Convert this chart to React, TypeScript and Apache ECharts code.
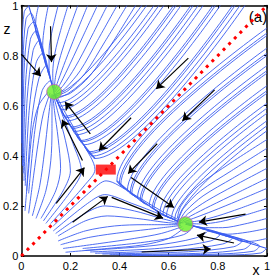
import React, { useEffect, useRef } from "react";
import * as echarts from "echarts";

type Pt = [number, number];

// axis ticks (x and z share the same ticks)
const xTicks = [0, 0.2, 0.4, 0.6, 0.8, 1];
const zTicks = [0, 0.2, 0.4, 0.6, 0.8, 1];

// streamlines, [x, z] points
const outerUpper: Pt[][] = [
  [[0.91, 1], [0.299, 0.389], [0.276, 0.416]],
  [[0.89, 1], [0.289, 0.399], [0.267, 0.427]],
  [[0.87, 1], [0.28, 0.41], [0.258, 0.438]],
  [[0.86, 1], [0.276, 0.416], [0.254, 0.444]],
  [[0.81, 1], [0.254, 0.444], [0.233, 0.472]],
  [[0.79, 1], [0.246, 0.456], [0.224, 0.484]],
  [[0.78, 1], [0.241, 0.461], [0.22, 0.49]],
  [[0.74, 1], [0.224, 0.484], [0.205, 0.515]],
  [[0.72, 1], [0.217, 0.497], [0.197, 0.527]],
  [[0.7, 1], [0.209, 0.509], [0.19, 0.54]],
  [[0.69, 1], [0.205, 0.515], [0.186, 0.546]],
  [[0.65, 1], [0.19, 0.54], [0.17, 0.57]],
  [[0.63, 1], [0.182, 0.552], [0.164, 0.584]],
  [[0.62, 1], [0.178, 0.558], [0.161, 0.591]],
  [[0.58, 1], [0.164, 0.584], [0.149, 0.618]],
  [[0.56, 1], [0.158, 0.598], [0.141, 0.631]],
  [[0.54, 1], [0.152, 0.612], [0.138, 0.645]],
  [[0.51, 1], [0.141, 0.631], [0.134, 0.655]],
  [[0.49, 1], [0.135, 0.645], [0.132, 0.66]],
];

const outerLower: Pt[][] = [
  [[1, 0.91], [0.389, 0.299], [0.416, 0.276]],
  [[1, 0.89], [0.399, 0.289], [0.427, 0.267]],
  [[1, 0.88], [0.405, 0.285], [0.432, 0.262]],
  [[1, 0.83], [0.432, 0.262], [0.46, 0.24]],
  [[1, 0.81], [0.444, 0.254], [0.472, 0.233]],
  [[1, 0.8], [0.45, 0.25], [0.478, 0.228]],
  [[1, 0.76], [0.473, 0.232], [0.503, 0.211]],
  [[1, 0.74], [0.484, 0.224], [0.515, 0.205]],
  [[1, 0.73], [0.49, 0.22], [0.52, 0.2]],
  [[1, 0.68], [0.521, 0.201], [0.552, 0.182]],
  [[1, 0.66], [0.534, 0.194], [0.564, 0.174]],
  [[1, 0.65], [0.54, 0.19], [0.57, 0.17]],
  [[1, 0.61], [0.565, 0.175], [0.598, 0.158]],
  [[1, 0.59], [0.577, 0.167], [0.612, 0.152]],
  [[1, 0.57], [0.591, 0.161], [0.625, 0.146]],
  [[1, 0.54], [0.612, 0.152], [0.645, 0.138]],
  [[1, 0.52], [0.624, 0.145], [0.655, 0.134]],
  [[1, 0.5], [0.638, 0.138], [0.66, 0.132]],
];

const topCurves: Pt[][] = [
  [[0.07, 1], [0.06, 0.95], [0.058, 0.9], [0.072, 0.86], [0.1, 0.76]],
  [[0.11, 1], [0.095, 0.92], [0.087, 0.84], [0.1, 0.77], [0.12, 0.7]],
  [[0.15, 1], [0.128, 0.91], [0.113, 0.82], [0.113, 0.75], [0.125, 0.68]],
  [[0.19, 1], [0.16, 0.9], [0.137, 0.81], [0.128, 0.73], [0.13, 0.67]],
  [[0.23, 1], [0.19, 0.89], [0.16, 0.8], [0.14, 0.72], [0.134, 0.665]],
  [[0.27, 1], [0.22, 0.88], [0.18, 0.78], [0.15, 0.7], [0.136, 0.66]],
  [[0.31, 1], [0.25, 0.875], [0.2, 0.77], [0.16, 0.69], [0.138, 0.655]],
  [[0.35, 1], [0.28, 0.865], [0.22, 0.755], [0.17, 0.68], [0.14, 0.65]],
  [[0.39, 1], [0.31, 0.86], [0.24, 0.74], [0.18, 0.67], [0.142, 0.645]],
  [[0.43, 1], [0.34, 0.855], [0.26, 0.73], [0.19, 0.66], [0.145, 0.64]],
  [[0.465, 1], [0.37, 0.85], [0.28, 0.72], [0.2, 0.65], [0.15, 0.635]],
];

const rightCurves: Pt[][] = [
  [[1, 0.07], [0.95, 0.06], [0.9, 0.058], [0.86, 0.072], [0.76, 0.1]],
  [[1, 0.11], [0.92, 0.095], [0.84, 0.087], [0.77, 0.1], [0.7, 0.12]],
  [[1, 0.15], [0.91, 0.128], [0.82, 0.113], [0.75, 0.113], [0.68, 0.125]],
  [[1, 0.19], [0.9, 0.16], [0.81, 0.137], [0.73, 0.128], [0.67, 0.13]],
  [[1, 0.23], [0.89, 0.19], [0.8, 0.16], [0.72, 0.14], [0.665, 0.134]],
  [[1, 0.27], [0.88, 0.22], [0.78, 0.18], [0.7, 0.15], [0.66, 0.136]],
  [[1, 0.31], [0.875, 0.25], [0.77, 0.2], [0.69, 0.16], [0.655, 0.138]],
  [[1, 0.35], [0.865, 0.28], [0.755, 0.22], [0.68, 0.17], [0.65, 0.14]],
  [[1, 0.39], [0.86, 0.31], [0.74, 0.24], [0.67, 0.18], [0.645, 0.142]],
  [[1, 0.43], [0.855, 0.34], [0.73, 0.26], [0.66, 0.19], [0.64, 0.145]],
  [[1, 0.465], [0.85, 0.37], [0.72, 0.28], [0.65, 0.2], [0.635, 0.15]],
];

const leftArcs: Pt[][] = [
  [[0.03, 0.25], [0.055, 0.5], [0.085, 0.66], [0.12, 0.7], [0.13, 0.67]],
  [[0.022, 0.26], [0.042, 0.54], [0.072, 0.71], [0.102, 0.76], [0.12, 0.7]],
  [[0.016, 0.28], [0.032, 0.58], [0.06, 0.77], [0.087, 0.81], [0.115, 0.72]],
  [[0.011, 0.3], [0.024, 0.63], [0.048, 0.82], [0.072, 0.86], [0.11, 0.73]],
  [[0.008, 0.33], [0.017, 0.68], [0.037, 0.865], [0.06, 0.9], [0.1, 0.76]],
  [[0.005, 0.36], [0.011, 0.73], [0.027, 0.905], [0.05, 0.935], [0.09, 0.8]],
  [[0.003, 0.4], [0.007, 0.78], [0.019, 0.945], [0.039, 0.97], [0.08, 0.83]],
  [[0.002, 0.45], [0.004, 0.84], [0.012, 0.975], [0.03, 0.998]],
];

const bottomArcs: Pt[][] = [
  [[0.25, 0.03], [0.5, 0.055], [0.66, 0.085], [0.7, 0.12], [0.67, 0.13]],
  [[0.26, 0.022], [0.54, 0.042], [0.71, 0.072], [0.76, 0.102], [0.7, 0.12]],
  [[0.28, 0.016], [0.58, 0.032], [0.77, 0.06], [0.81, 0.087], [0.72, 0.115]],
  [[0.3, 0.011], [0.63, 0.024], [0.82, 0.048], [0.86, 0.072], [0.73, 0.11]],
  [[0.33, 0.008], [0.68, 0.017], [0.865, 0.037], [0.9, 0.06], [0.76, 0.1]],
  [[0.36, 0.005], [0.73, 0.011], [0.905, 0.027], [0.935, 0.05], [0.8, 0.09]],
  [[0.4, 0.003], [0.78, 0.007], [0.945, 0.019], [0.97, 0.039], [0.83, 0.08]],
  [[0.45, 0.002], [0.84, 0.004], [0.975, 0.012], [0.998, 0.03]],
];

const innerUpper: Pt[][] = [
  [[0.12, 0.13], [0.26, 0.285], [0.3, 0.345], [0.25, 0.45], [0.18, 0.57], [0.14, 0.645]],
  [[0.1, 0.13], [0.21, 0.27], [0.245, 0.34], [0.21, 0.45], [0.165, 0.57], [0.135, 0.645]],
  [[0.09, 0.14], [0.17, 0.26], [0.2, 0.34], [0.18, 0.46], [0.15, 0.57], [0.13, 0.645]],
  [[0.08, 0.15], [0.14, 0.26], [0.16, 0.35], [0.15, 0.47], [0.135, 0.58], [0.128, 0.645]],
  [[0.06, 0.15], [0.1, 0.26], [0.12, 0.38], [0.125, 0.5], [0.125, 0.64]],
  [[0.045, 0.16], [0.075, 0.28], [0.095, 0.42], [0.11, 0.55], [0.122, 0.645]],
  [[0.03, 0.17], [0.05, 0.32], [0.07, 0.46], [0.09, 0.57], [0.117, 0.65]],
  [[0.015, 0.18], [0.03, 0.35], [0.045, 0.5], [0.07, 0.6], [0.11, 0.655]],
];

const innerLower: Pt[][] = [
  [[0.13, 0.12], [0.285, 0.26], [0.345, 0.3], [0.45, 0.25], [0.57, 0.18], [0.65, 0.14]],
  [[0.13, 0.1], [0.27, 0.21], [0.34, 0.245], [0.45, 0.21], [0.57, 0.165], [0.65, 0.135]],
  [[0.14, 0.09], [0.26, 0.17], [0.34, 0.2], [0.46, 0.18], [0.57, 0.15], [0.65, 0.13]],
  [[0.15, 0.08], [0.26, 0.14], [0.35, 0.16], [0.47, 0.15], [0.58, 0.135], [0.65, 0.128]],
  [[0.15, 0.06], [0.26, 0.1], [0.38, 0.12], [0.5, 0.125], [0.645, 0.125]],
  [[0.16, 0.045], [0.28, 0.075], [0.42, 0.095], [0.55, 0.11], [0.65, 0.122]],
  [[0.17, 0.03], [0.32, 0.05], [0.46, 0.07], [0.57, 0.09], [0.655, 0.117]],
  [[0.18, 0.015], [0.35, 0.03], [0.5, 0.045], [0.6, 0.07], [0.66, 0.11]],
];

const manifold: Pt[][] = [
  [[0.03, 1], [0.06, 0.9], [0.087, 0.81], [0.12, 0.7], [0.134, 0.655]],
  [[0.3, 0.39], [0.25, 0.45], [0.209, 0.509], [0.17, 0.57], [0.138, 0.638]],
  [[1, 0.03], [0.9, 0.06], [0.81, 0.087], [0.7, 0.12], [0.668, 0.127]],
  [[0.39, 0.3], [0.45, 0.25], [0.509, 0.209], [0.57, 0.17], [0.64, 0.138]],
];

const diagonal: Pt[] = [[0, 0], [1, 1]];
const stablePoints: Pt[] = [[0.134, 0.655], [0.668, 0.127]];
const saddlePoint: Pt[] = [[0.344, 0.345]];

// black arrows: [tail, head]
const arrows: Pt[][] = [
  [[0.0, 0.806], [0.079, 0.718]],
  [[0.119, 0.917], [0.123, 0.774]],
  [[0.281, 0.488], [0.178, 0.615]],
  [[0.249, 0.381], [0.166, 0.544]],
  [[0.142, 0.21], [0.257, 0.353]],
  [[0.209, 0.135], [0.352, 0.238]],
  [[0.68, 0.79], [0.549, 0.667]],
  [[0.787, 0.663], [0.656, 0.54]],
  [[0.447, 0.552], [0.316, 0.421]],
  [[0.553, 0.448], [0.435, 0.329]],
  [[0.447, 0.313], [0.621, 0.194]],
  [[0.368, 0.234], [0.577, 0.151]],
  [[0.913, 0.167], [0.723, 0.135]],
  [[0.866, 0.052], [0.715, 0.083]],
  [[0.49, 0.016], [0.771, 0.028]],
];

const FONT = "'Liberation Sans', Arial, Helvetica, sans-serif";
const BLUE = "#3a5cf0";

export default function App() {
  const ref = useRef<HTMLDivElement>(null);
  useEffect(() => {
    if (!ref.current) return;
    const chart = echarts.init(ref.current, undefined, { renderer: "svg" });

    const streamGroups = [
      outerUpper, outerLower, topCurves, rightCurves,
      leftArcs, bottomArcs, innerUpper, innerLower,
    ];
    const streamSeries: any[] = [];
    streamGroups.forEach((g) =>
      g.forEach((pts) =>
        streamSeries.push({
          type: "line",
          data: pts,
          smooth: 0.3,
          showSymbol: false,
          silent: true,
          z: 1,
          lineStyle: { color: BLUE, width: 0.9 },
        })
      )
    );
    manifold.forEach((pts) =>
      streamSeries.push({
        type: "line",
        data: pts,
        smooth: 0.3,
        showSymbol: false,
        silent: true,
        z: 1,
        lineStyle: { color: BLUE, width: 1.1 },
      })
    );

    const axisCommon = {
      type: "value" as const,
      min: 0,
      max: 1,
      interval: 0.2,
      splitLine: { show: false },
      axisLine: { show: true, onZero: false, lineStyle: { color: "#000", width: 1.5 } },
      axisTick: { show: true, inside: true, length: 3, lineStyle: { color: "#000", width: 1 } },
    };

    chart.setOption({
      animation: false,
      grid: { left: 17, top: 4, right: 3, bottom: 21, containLabel: false },
      xAxis: [
        {
          ...axisCommon,
          position: "bottom",
          axisLabel: {
            color: "#000", fontSize: 11, fontFamily: FONT, margin: 4,
            formatter: (v: number) => String(xTicks.find((t) => Math.abs(t - v) < 1e-6) ?? v),
          },
        },
        { ...axisCommon, position: "top", axisLabel: { show: false } },
      ],
      yAxis: [
        {
          ...axisCommon,
          position: "left",
          axisLabel: {
            color: "#000", fontSize: 11, fontFamily: FONT, margin: 3,
            formatter: (v: number) => String(zTicks.find((t) => Math.abs(t - v) < 1e-6) ?? v),
          },
        },
        { ...axisCommon, position: "right", axisLabel: { show: false } },
      ],
      graphic: [
        { type: "text", x: 7, y: 29, style: { text: "z", fontSize: 14, fontFamily: FONT, fill: "#000", align: "center", verticalAlign: "middle" } },
        { type: "text", x: 256, y: 270, style: { text: "x", fontSize: 14, fontFamily: FONT, fill: "#000", align: "center", verticalAlign: "middle" } },
        { type: "text", x: 258, y: 16, style: { text: "(a)", fontSize: 15, fontFamily: FONT, fill: "#000", align: "center", verticalAlign: "middle" } },
      ],
      series: [
        ...streamSeries,
        {
          type: "line",
          data: diagonal,
          showSymbol: false,
          silent: true,
          z: 3,
          lineStyle: { color: "#ff0000", width: 3, type: [3, 5] },
        },
        {
          type: "lines",
          coordinateSystem: "cartesian2d",
          silent: true,
          z: 4,
          symbol: ["none", "arrow"],
          symbolSize: 8,
          lineStyle: { color: "#000", width: 1.2, opacity: 1, curveness: 0 },
          itemStyle: { color: "#000" },
          data: arrows.map((a) => ({ coords: a })),
        },
        {
          type: "scatter",
          data: saddlePoint,
          symbol: "rect",
          symbolSize: [20, 10],
          silent: true,
          z: 5,
          itemStyle: { color: "#ff0000" },
        },
        {
          type: "scatter",
          data: stablePoints,
          symbol: "circle",
          symbolSize: 15,
          silent: true,
          z: 5,
          itemStyle: { color: "#66ee22", borderColor: "#c060c0", borderWidth: 1 },
        },
      ],
    });
    return () => chart.dispose();
  }, []);

  return (
    <div
      ref={ref}
      style={{ position: "fixed", left: 0, top: 0, width: 273, height: 277, background: "#fff" }}
    />
  );
}
